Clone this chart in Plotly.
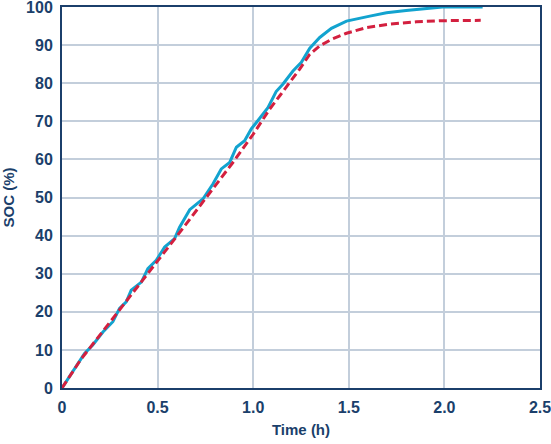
import plotly.graph_objects as go

# SOC curves
blue_time = [0, 0.057, 0.118, 0.161, 0.214, 0.266, 0.301, 0.336, 0.362, 0.415, 0.449, 0.493,
             0.537, 0.589, 0.615, 0.668, 0.737, 0.79, 0.833, 0.877, 0.912, 0.955, 0.99, 1.025,
             1.077, 1.12, 1.156, 1.208, 1.252, 1.296, 1.348, 1.409, 1.488, 1.61, 1.697, 1.80,
             1.889, 1.99, 2.2]
blue_soc = [0, 4.3, 9.1, 11.3, 14.7, 17.4, 20.9, 22.6, 25.7, 27.8, 31.3, 33.5,
            37.0, 39.2, 42.2, 46.8, 49.6, 53.6, 57.5, 59.2, 63.2, 64.9, 68.0, 70.2,
            73.6, 77.8, 79.8, 83.2, 85.5, 89.2, 92.0, 94.4, 96.3, 97.6, 98.5, 99.1,
            99.6, 100, 100]

red_time = [0, 0.1, 0.2, 0.3, 0.4, 0.5, 0.6, 0.7, 0.8, 0.9, 1.0, 1.086, 1.139, 1.191,
            1.243, 1.296, 1.348, 1.409, 1.488, 1.592, 1.715, 1.854, 1.976, 2.19]
red_soc = [0, 7.6, 14.0, 20.4, 26.8, 33.2, 39.8, 46.4, 53.0, 59.6, 66.6, 73.2, 76.7, 80.2,
           83.7, 87.6, 89.8, 91.5, 93.1, 94.6, 95.5, 96.1, 96.4, 96.5]

x_ticks = [0, 0.5, 1.0, 1.5, 2.0, 2.5]
x_labels = ["0", "0.5", "1.0", "1.5", "2.0", "2.5"]
y_ticks = [0, 10, 20, 30, 40, 50, 60, 70, 80, 90, 100]

navy = "#1b3f6b"
grid = "#c3cedb"

fig = go.Figure()
fig.add_trace(go.Scatter(x=blue_time, y=blue_soc, mode="lines",
                         line=dict(color="#12a3cf", width=3)))
fig.add_trace(go.Scatter(x=red_time, y=red_soc, mode="lines",
                         line=dict(color="#d3203f", width=3, dash="8px,4px")))

fig.update_layout(
    width=551, height=444,
    margin=dict(l=62, r=11, t=7, b=56),
    plot_bgcolor="white", paper_bgcolor="white",
    showlegend=False,
    font=dict(family="Liberation Sans, Arial, sans-serif", size=16, color=navy, weight="bold"),
)
fig.update_xaxes(
    range=[0, 2.5], tickvals=x_ticks, ticktext=x_labels,
    showgrid=True, gridcolor=grid, gridwidth=1.5, zeroline=False,
    showline=True, linecolor=navy, linewidth=2, mirror=True,
    ticks="", ticklen=0, ticklabelstandoff=4,
    ticklabeloverflow="allow", automargin=False,
    title=dict(text="Time (h)", standoff=9, font=dict(size=15, weight="bold")),
)
fig.update_yaxes(
    range=[0, 100], tickvals=y_ticks,
    showgrid=True, gridcolor=grid, gridwidth=1.5, zeroline=False,
    showline=True, linecolor=navy, linewidth=2, mirror=True,
    ticks="", ticklen=0, ticklabelstandoff=4,
    ticklabeloverflow="allow", automargin=False,
    title=dict(text="SOC (%)", standoff=8, font=dict(size=15, weight="bold")),
)

# drop the page's default 8px body margin so the figure fills the window
fig.write_html("out.html", config={"displayModeBar": False},
               post_script="document.body.style.margin='0px';")
